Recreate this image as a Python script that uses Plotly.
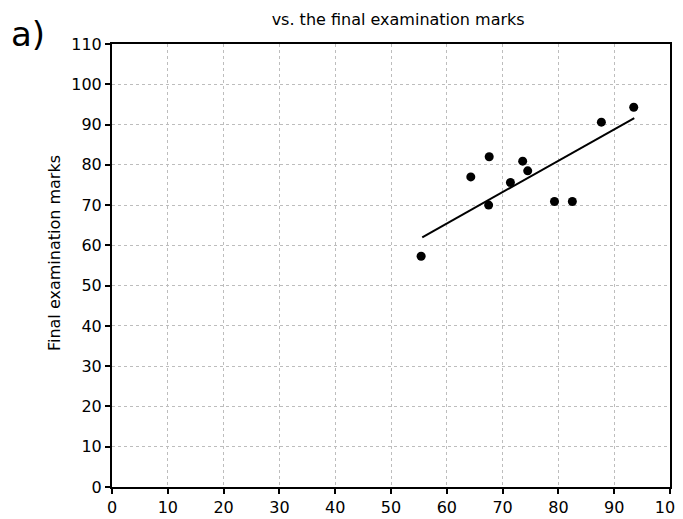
import plotly.graph_objects as go

# Data
midterm_marks = [55.4, 64.3, 67.6, 67.5, 71.4, 73.6, 74.5, 79.3, 82.5, 87.7, 93.5]
final_marks = [57.3, 77.0, 82.0, 70.0, 75.6, 80.9, 78.5, 70.9, 70.9, 90.6, 94.3]
trend_x = [55.6, 93.6]
trend_y = [62.0, 91.6]
x_ticks = [0, 10, 20, 30, 40, 50, 60, 70, 80, 90, 100]
y_ticks = [0, 10, 20, 30, 40, 50, 60, 70, 80, 90, 100, 110]

FONT = "Comic Sans MS, DejaVu Sans, sans-serif"

fig = go.Figure()
fig.add_trace(go.Scatter(
    x=midterm_marks, y=final_marks, mode="markers",
    marker=dict(color="black", size=9), showlegend=False, cliponaxis=False))
fig.add_trace(go.Scatter(
    x=trend_x, y=trend_y, mode="lines",
    line=dict(color="black", width=2), showlegend=False))

axis_common = dict(
    showline=True, linecolor="black", linewidth=2, mirror=True,
    ticks="outside", ticklen=5, tickwidth=1.5, tickcolor="black",
    showgrid=True, gridcolor="#bdbdbd", griddash="dot", gridwidth=1,
    zeroline=False, tickfont=dict(family=FONT, size=16, color="black"),
    automargin=False, ticklabeloverflow="allow",
)

fig.update_xaxes(range=[0, 100], tickvals=x_ticks, **axis_common)
fig.update_yaxes(range=[0, 110], tickvals=y_ticks, **axis_common)

# page body has an 8px default margin, so the figure is sized to fit inside it
fig.update_layout(
    width=675, height=511,
    margin=dict(l=104, r=13, t=36, b=32),
    paper_bgcolor="white", plot_bgcolor="white",
    title=dict(text="vs. the final examination marks", x=0.578, xanchor="center",
               y=0.978, yanchor="middle",
               font=dict(family=FONT, size=16, color="black")),
    annotations=[
        dict(text="a)", xref="paper", yref="paper", x=-0.185, y=1.022,
             xanchor="left", yanchor="middle", showarrow=False,
             font=dict(family=FONT, size=34, color="black")),
        dict(text="Final examination marks", xref="paper", yref="paper",
             x=-0.104, y=0.528, xanchor="center", yanchor="middle",
             textangle=-90, showarrow=False,
             font=dict(family=FONT, size=16, color="black")),
    ],
    shapes=[dict(type="line", xref="paper", yref="paper",
                 x0=1.019, x1=1.019, y0=0.08, y1=0.69,
                 line=dict(color="black", width=2))],
)

fig.write_html("out.html")
